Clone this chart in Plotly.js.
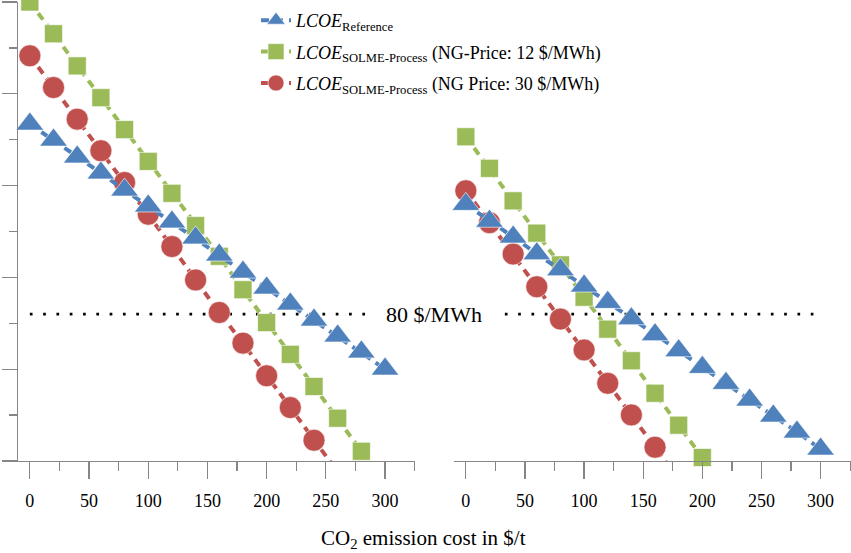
<!DOCTYPE html>
<html>
<head>
<meta charset="utf-8">
<script src="https://cdn.plot.ly/plotly-3.0.1.min.js"></script>
<style>html,body{margin:0;padding:0;background:#fff;}#chart{width:851px;height:553px;}</style>
</head>
<body>
<div id="chart"></div>
<script>
// CO2 emission cost in $/t
var co2Cost = [0, 20, 40, 60, 80, 100, 120, 140, 160, 180, 200, 220, 240, 260, 280, 300];

// Left panel (LCOE values, $/MWh)
var refLeft   = [183.5, 174.8, 165.6, 156.9, 147.6, 138.9, 130.2, 121.5, 112.2, 102.9, 94.2, 85.5, 76.8, 68.1, 59.4, 50.1];
var ng12Left  = [250.0, 232.7, 215.2, 197.9, 180.5, 163.2, 145.8, 128.2, 111.5, 93.3, 75.4, 58.1, 40.6, 23.3, 5.3];
var ng30Left  = [220.7, 203.4, 186.2, 169.0, 151.7, 134.4, 116.8, 98.6, 80.9, 64.2, 46.4, 29.1, 11.3, -6.0];

// Right panel (LCOE values, $/MWh)
var refRight  = [139.8, 130.6, 122.0, 112.9, 104.2, 95.3, 86.4, 77.5, 68.8, 60.1, 51.0, 42.3, 33.2, 24.5, 15.8, 6.5];
var ng12Right = [176.6, 159.4, 141.7, 124.1, 106.8, 89.2, 71.8, 54.6, 36.9, 19.5, 1.9];
var ng30Right = [147.2, 129.8, 112.7, 94.9, 77.3, 60.5, 42.3, 25.1, 7.5, -10.0];

// 80 $/MWh threshold
var threshold = 80;
var thresholdLeftX = [0, 285];
var thresholdRightX = [33, 295];

var xTickVals = [0, 50, 100, 150, 200, 250, 300];

var names = {
  ref: '<i>LCOE</i><sub>Reference</sub>',
  ng12: '<i>LCOE</i><sub>SOLME-Process</sub> (NG-Price: 12 $/MWh)',
  ng30: '<i>LCOE</i><sub>SOLME-Process</sub> (NG Price: 30 $/MWh)'
};

var BLUE = '#4F81BD', GREEN = '#9BBB59', RED = '#C0504D';
var SERIF = '"Liberation Serif", "Times New Roman", Times, serif';

function series(xs, ys, xa, ya, color, symbol, size, name, show, rank, clip, group) {
  return {
    x: xs.slice(0, ys.length), y: ys, xaxis: xa, yaxis: ya,
    type: 'scatter', mode: 'lines+markers', name: name,
    showlegend: show, legendrank: rank, legendgroup: group, cliponaxis: clip,
    line: {color: color, width: 4, dash: '8px,6px'},
    marker: {color: color, symbol: symbol, size: size, line: {color: 'rgba(255,255,255,0.6)', width: 1}},
    hoverinfo: 'skip'
  };
}
function thrLine(xs, xa, ya) {
  return {
    x: xs, y: [threshold, threshold], xaxis: xa, yaxis: ya,
    type: 'scatter', mode: 'lines', showlegend: false, hoverinfo: 'skip',
    line: {color: '#000', width: 2.7, dash: '2.7px,10.6px'}
  };
}

var data = [
  thrLine(thresholdLeftX, 'x', 'y'),
  thrLine(thresholdRightX, 'x2', 'y2'),
  series(co2Cost, ng12Left, 'x', 'y', GREEN, 'square', 18, names.ng12, true, 2, false, 'g2'),
  series(co2Cost, ng30Left, 'x', 'y', RED, 'circle', 22, names.ng30, true, 3, true, 'g3'),
  series(co2Cost, refLeft, 'x', 'y', BLUE, 'triangle-up', 24, names.ref, true, 1, false, 'g1'),
  series(co2Cost, ng12Right, 'x2', 'y2', GREEN, 'square', 18, names.ng12, false, 2, false, 'g2'),
  series(co2Cost, ng30Right, 'x2', 'y2', RED, 'circle', 22, names.ng30, false, 3, true, 'g3'),
  series(co2Cost, refRight, 'x2', 'y2', BLUE, 'triangle-up', 24, names.ref, false, 1, false, 'g1')
];

var xAxisBase = {
  range: [-10, 325.3], showgrid: false, zeroline: false,
  showline: true, linecolor: '#868686', linewidth: 1.3,
  tickmode: 'array', tickvals: xTickVals,
  ticks: 'outside', ticklen: 17, tickwidth: 1.3, tickcolor: '#868686',
  minor: {dtick: 25, tick0: 0, ticks: 'outside', ticklen: 9, tickwidth: 1.3, tickcolor: '#868686', showgrid: false},
  tickfont: {family: SERIF, size: 18, color: '#000'},
  ticklabelstandoff: 6, fixedrange: true
};

var layout = {
  width: 851, height: 553,
  margin: {l: 0, r: 0, t: 2, b: 92},
  paper_bgcolor: '#fff', plot_bgcolor: 'rgba(0,0,0,0)',
  showlegend: true, hovermode: false,
  font: {family: SERIF, color: '#000'},
  xaxis: Object.assign({}, xAxisBase, {domain: [18 / 851, 415 / 851], anchor: 'y'}),
  xaxis2: Object.assign({}, xAxisBase, {domain: [454 / 851, 850.5 / 851], anchor: 'y2'}),
  yaxis: {
    range: [0, 250], domain: [0, 1], anchor: 'x',
    showgrid: false, zeroline: false, showticklabels: false,
    showline: true, linecolor: '#868686', linewidth: 1.3,
    dtick: 50, tick0: 0, ticks: 'outside', ticklen: 15, tickwidth: 1.3, tickcolor: '#868686',
    minor: {dtick: 25, tick0: 0, ticks: 'outside', ticklen: 8, tickwidth: 1.3, tickcolor: '#868686', showgrid: false},
    fixedrange: true
  },
  yaxis2: {
    range: [0, 250], domain: [0, 1], anchor: 'x2', matches: 'y',
    visible: false, fixedrange: true
  },
  legend: {
    x: 256 / 851, xanchor: 'left', y: 1.0, yanchor: 'top',
    bgcolor: 'rgba(0,0,0,0)', borderwidth: 0,
    font: {family: SERIF, size: 18, color: '#000'},
    itemsizing: 'trace', tracegroupgap: 5, traceorder: 'grouped'
  },
  annotations: [
    {text: '80 $/MWh', xref: 'paper', yref: 'y', x: 434 / 851, y: threshold,
     xanchor: 'center', yanchor: 'middle', showarrow: false,
     font: {family: SERIF, size: 22, color: '#000'}},
    {text: 'CO<sub>2</sub> emission cost in $/t', xref: 'paper', yref: 'paper',
     x: 423 / 851, y: (461 - 539) / 459, xanchor: 'center', yanchor: 'middle', showarrow: false,
     font: {family: SERIF, size: 21, color: '#000'}}
  ]
};

Plotly.newPlot('chart', data, layout, {displayModeBar: false, staticPlot: true});
</script>
</body>
</html>
